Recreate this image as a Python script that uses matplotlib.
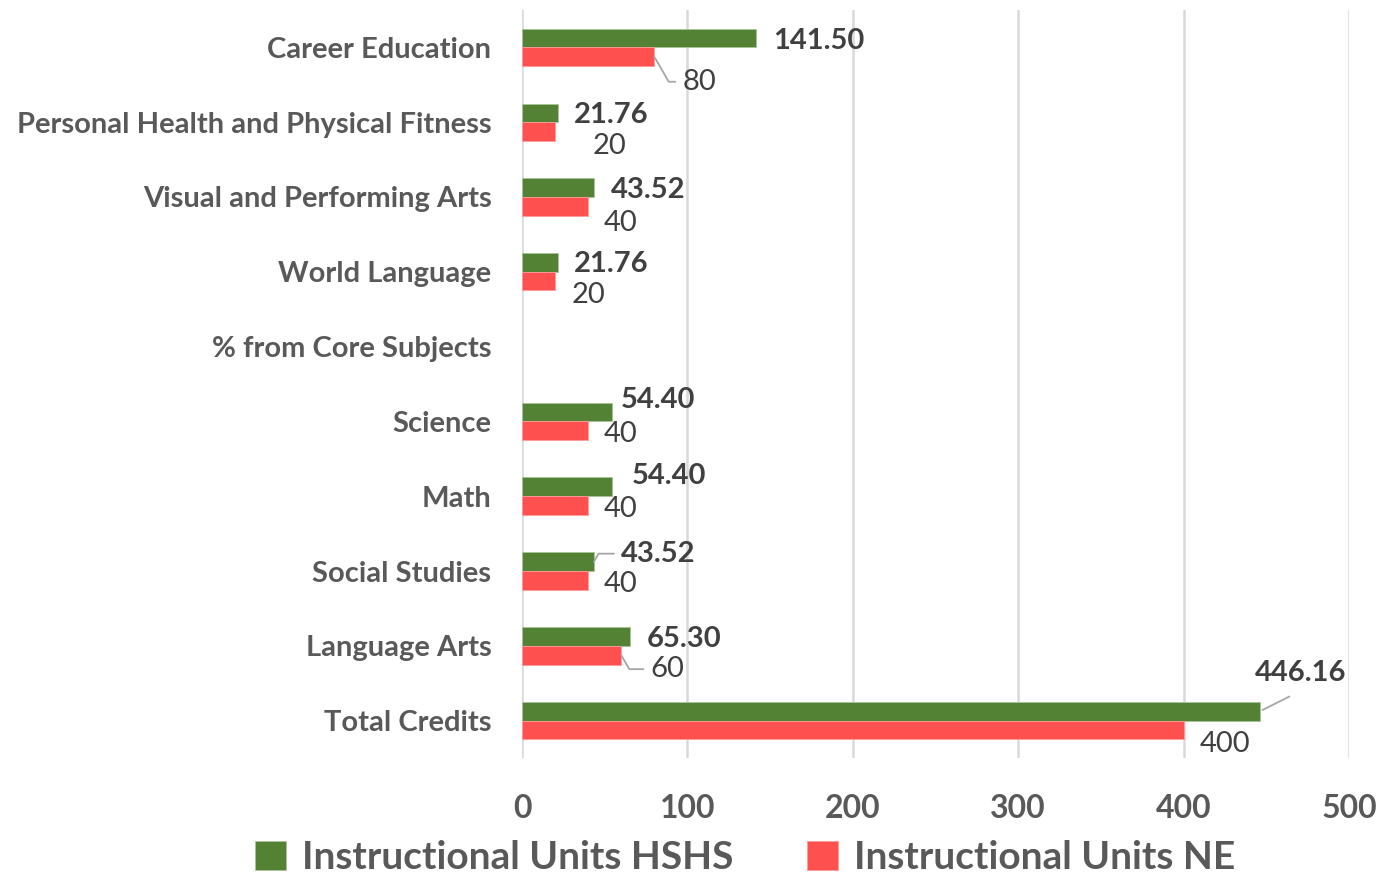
import matplotlib.pyplot as plt
import numpy as np

# Datos
categorias = ["Career Education", "Personal Health and Physical Fitness",
              "Visual and Performing Arts", "World Language", "% from Core Subjects",
              "Science", "Math", "Social Studies", "Language Arts", "Total Credits"]
hshs = [141.50, 21.76, 43.52, 21.76, np.nan, 54.40, 54.40, 43.52, 65.30, 446.16]
ne = [80, 20, 40, 20, np.nan, 40, 40, 40, 60, 400]
etiquetas_hshs = ["141.50", "21.76", "43.52", "21.76", "", "54.40", "54.40", "43.52", "65.30", "446.16"]
etiquetas_ne = ["80", "20", "40", "20", "", "40", "40", "40", "60", "400"]

# Posiciones de las etiquetas (pixeles desde el final de la barra) y lineas guia
off_hshs = [(17, -3), (16, -2), (17, -2), (16, -2), None, (9, 12), (20, 11), (27, 8), (17, -3), (-5, 38)]
off_ne = [(28, -25), (38, -14), (16, -17), (17, -14), None, (16, -3), (16, -3), (16, -4), (29, -14), (16, -14)]
# angulo de la linea guia (None = sin linea, "recta" = linea recta)
guia_hshs = [None, None, None, None, None, None, None, 60, None, "recta"]
guia_ne = [-60, None, None, None, None, None, None, None, -60, None]

verde = "#548235"
rojo = "#FF5050"
gris_texto = "#595959"
gris_dato = "#404040"

plt.rcParams["font.family"] = ["Lato", "DejaVu Sans"]

fig = plt.figure(figsize=(13.93, 8.75), dpi=100)
ax = fig.add_axes([522 / 1393, 1 - 758 / 875, (1349 - 522) / 1393, 748 / 875])

y = np.arange(len(categorias))
h = 0.25
ax.barh(y - h / 2, hshs, height=h, color=verde, edgecolor="#A9C49A", linewidth=0.6,
        label="Instructional Units HSHS", zorder=3)
ax.barh(y + h / 2, ne, height=h, color=rojo, edgecolor="#FF9A9A", linewidth=0.6,
        label="Instructional Units NE", zorder=3)

ax.set_ylim(len(categorias) - 0.5, -0.5)
ax.set_xlim(0, 500)
ax.set_xticks([0, 100, 200, 300, 400, 500])
ax.set_yticks(y)
ax.set_yticklabels(categorias, fontsize=21, fontweight="bold", color=gris_texto)
ax.tick_params(axis="y", length=0, pad=22)
ax.tick_params(axis="x", length=0, pad=26, labelsize=23, labelcolor=gris_texto)
for t in ax.get_xticklabels():
    t.set_fontweight("bold")

ax.grid(axis="x", color="#D9D9D9", linewidth=1.8, zorder=0)
for s in ax.spines.values():
    s.set_visible(False)


def etiqueta(valor, yc, texto, off, guia, negrita):
    if off is None:
        return
    props = None
    if guia == "recta":
        props = dict(arrowstyle="-", color="#A6A6A6", lw=1.3, shrinkA=12, shrinkB=2,
                     relpos=(0.6, 0))
    elif guia is not None:
        props = dict(arrowstyle="-", color="#A6A6A6", lw=1.3, shrinkA=3, shrinkB=0,
                     relpos=(0, 0.5), connectionstyle="angle,angleA=0,angleB=%d" % guia)
    ax.annotate(texto, xy=(valor, yc), xytext=off, textcoords="offset pixels",
                ha="left", va="center", fontsize=21,
                fontweight="bold" if negrita else "normal", color=gris_dato,
                arrowprops=props, zorder=5)


for i in range(len(categorias)):
    etiqueta(hshs[i], y[i] - h / 2, etiquetas_hshs[i], off_hshs[i], guia_hshs[i], True)
    etiqueta(ne[i], y[i] + h / 2, etiquetas_ne[i], off_ne[i], guia_ne[i], False)

leg = fig.legend(loc="center", bbox_to_anchor=(0.535, 0.02), ncol=2, frameon=False,
                 prop=dict(size=28, weight="bold"), handlelength=0.8, handleheight=0.8,
                 handletextpad=0.4, columnspacing=1.9)
for t in leg.get_texts():
    t.set_color(gris_texto)

fig.savefig("out.png", dpi=100)
